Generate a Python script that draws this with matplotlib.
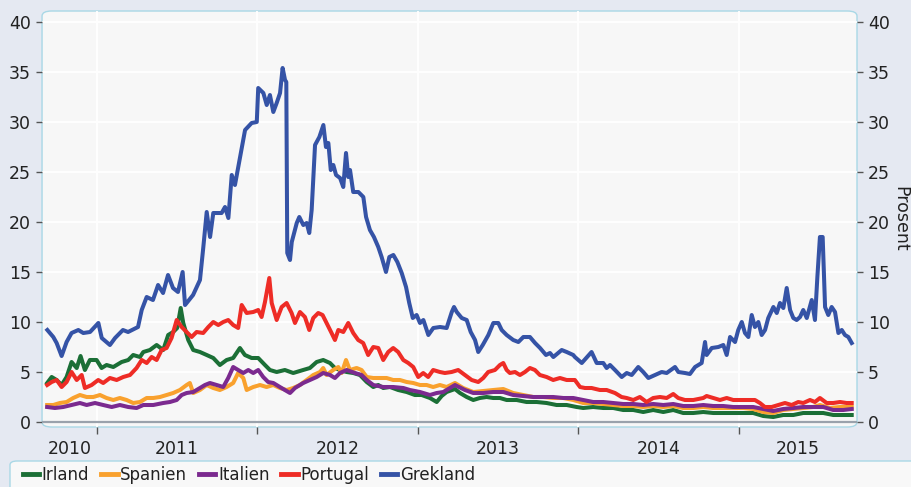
import matplotlib
matplotlib.use("Agg")
import matplotlib.pyplot as plt
from matplotlib.patches import FancyBboxPatch
from matplotlib.lines import Line2D
import numpy as np

# data (x in decimal years, y in percent)
gre_x = [2010.691, 2010.728, 2010.749, 2010.780, 2010.811, 2010.842, 2010.884, 2010.915, 2010.957, 2011.009,
         2011.030, 2011.081, 2011.113, 2011.162, 2011.194, 2011.256, 2011.279, 2011.310, 2011.349, 2011.381,
         2011.412, 2011.443, 2011.474, 2011.505, 2011.534, 2011.549, 2011.599, 2011.642, 2011.663, 2011.684,
         2011.705, 2011.725, 2011.777, 2011.798, 2011.819, 2011.840, 2011.860, 2011.891, 2011.923, 2011.964,
         2011.996, 2012.005, 2012.037, 2012.058, 2012.078, 2012.099, 2012.120, 2012.141, 2012.157, 2012.172,
         2012.180, 2012.186, 2012.203, 2012.214, 2012.245, 2012.261, 2012.286, 2012.307, 2012.323, 2012.338,
         2012.359, 2012.386, 2012.411, 2012.427, 2012.442, 2012.457, 2012.473, 2012.490, 2012.515, 2012.535,
         2012.552, 2012.566, 2012.577, 2012.597, 2012.629, 2012.660, 2012.677, 2012.701, 2012.726, 2012.753,
         2012.774, 2012.801, 2012.822, 2012.847, 2012.872, 2012.899, 2012.926, 2012.946, 2012.968, 2012.992,
         2013.013, 2013.034, 2013.065, 2013.096, 2013.138, 2013.179, 2013.211, 2013.225, 2013.242, 2013.273,
         2013.304, 2013.329, 2013.356, 2013.376, 2013.404, 2013.439, 2013.470, 2013.501, 2013.522, 2013.553,
         2013.594, 2013.626, 2013.657, 2013.698, 2013.730, 2013.761, 2013.798, 2013.823, 2013.844, 2013.896,
         2013.927, 2013.968, 2013.978, 2014.021, 2014.082, 2014.114, 2014.155, 2014.176, 2014.197, 2014.228,
         2014.270, 2014.301, 2014.332, 2014.373, 2014.404, 2014.436, 2014.477, 2014.519, 2014.550, 2014.602,
         2014.623, 2014.664, 2014.695, 2014.727, 2014.768, 2014.789, 2014.799, 2014.831, 2014.872, 2014.903,
         2014.924, 2014.945, 2014.976, 2014.996, 2015.018, 2015.038, 2015.059, 2015.080, 2015.100, 2015.121,
         2015.142, 2015.163, 2015.183, 2015.215, 2015.236, 2015.256, 2015.277, 2015.298, 2015.319, 2015.339,
         2015.360, 2015.381, 2015.401, 2015.423, 2015.454, 2015.474, 2015.489, 2015.505, 2015.522, 2015.537,
         2015.557, 2015.578, 2015.599, 2015.620, 2015.641, 2015.661, 2015.682, 2015.703]
gre_y = [9.2, 8.5, 7.9, 6.6, 8.0, 8.9, 9.2, 8.9, 9.0, 9.9,
         8.4, 7.7, 8.4, 9.2, 9.0, 9.5, 11.2, 12.5, 12.2, 13.7,
         12.9, 14.7, 13.4, 13.0, 15.0, 11.7, 12.7, 14.2, 17.5, 21.0,
         18.5, 20.9, 20.9, 21.5, 20.4, 24.7, 23.7, 26.4, 29.2, 29.9,
         30.0, 33.4, 32.9, 31.7, 32.7, 31.0, 31.9, 32.9, 35.4, 34.2,
         34.0, 16.9, 16.2, 18.0, 19.9, 20.5, 19.7, 19.9, 18.9, 21.2,
         27.7, 28.5, 29.7, 27.5, 27.9, 25.2, 25.7, 24.7, 24.4, 23.5,
         26.9, 24.5, 25.2, 23.0, 23.0, 22.5, 20.5, 19.2, 18.5, 17.5,
         16.5, 15.0, 16.5, 16.7, 16.0, 14.9, 13.5, 11.9, 10.4, 10.7,
         9.9, 10.2, 8.7, 9.4, 9.5, 9.4, 11.0, 11.5, 11.0, 10.4,
         10.2, 9.0, 8.2, 7.0, 7.7, 8.7, 9.9, 9.9, 9.2, 8.7,
         8.2, 8.0, 8.5, 8.5, 7.9, 7.4, 6.7, 6.9, 6.5, 7.2,
         7.0, 6.7, 6.5, 5.9, 7.0, 5.9, 5.9, 5.4, 5.7, 5.2,
         4.5, 4.9, 4.7, 5.5, 5.0, 4.4, 4.7, 5.0, 4.9, 5.5,
         5.0, 4.9, 4.8, 5.5, 5.9, 8.0, 6.7, 7.4, 7.5, 7.7,
         6.7, 8.5, 8.0, 9.2, 10.0, 8.9, 8.5, 10.7, 9.5, 10.0,
         8.7, 9.2, 10.4, 11.5, 10.9, 11.9, 11.4, 13.4, 11.2, 10.4,
         10.2, 10.5, 11.2, 10.4, 12.2, 10.2, 14.5, 18.5, 18.5, 11.5,
         10.7, 11.5, 11.0, 8.9, 9.2, 8.7, 8.5, 7.9]

por_x = [2010.690, 2010.718, 2010.749, 2010.780, 2010.811, 2010.842, 2010.874, 2010.905, 2010.925, 2010.967,
         2011.008, 2011.039, 2011.081, 2011.123, 2011.164, 2011.206, 2011.247, 2011.279, 2011.310, 2011.341,
         2011.372, 2011.403, 2011.434, 2011.465, 2011.497, 2011.528, 2011.559, 2011.590, 2011.621, 2011.662,
         2011.694, 2011.725, 2011.756, 2011.787, 2011.818, 2011.849, 2011.880, 2011.902, 2011.933, 2011.974,
         2012.005, 2012.026, 2012.047, 2012.074, 2012.089, 2012.120, 2012.151, 2012.182, 2012.213, 2012.234,
         2012.265, 2012.296, 2012.323, 2012.348, 2012.379, 2012.406, 2012.431, 2012.462, 2012.483, 2012.504,
         2012.535, 2012.566, 2012.597, 2012.628, 2012.659, 2012.690, 2012.722, 2012.753, 2012.784, 2012.815,
         2012.846, 2012.877, 2012.909, 2012.940, 2012.971, 2013.002, 2013.033, 2013.064, 2013.095, 2013.137,
         2013.168, 2013.210, 2013.251, 2013.293, 2013.335, 2013.376, 2013.407, 2013.438, 2013.480, 2013.511,
         2013.532, 2013.553, 2013.573, 2013.605, 2013.636, 2013.667, 2013.698, 2013.729, 2013.760, 2013.802,
         2013.843, 2013.885, 2013.927, 2013.978, 2014.010, 2014.041, 2014.082, 2014.134, 2014.176, 2014.228,
         2014.269, 2014.301, 2014.342, 2014.383, 2014.425, 2014.466, 2014.508, 2014.550, 2014.591, 2014.622,
         2014.664, 2014.716, 2014.778, 2014.799, 2014.840, 2014.882, 2014.924, 2014.965, 2015.007, 2015.048,
         2015.100, 2015.131, 2015.162, 2015.204, 2015.245, 2015.287, 2015.329, 2015.370, 2015.401, 2015.443,
         2015.474, 2015.505, 2015.547, 2015.588, 2015.630, 2015.671, 2015.703]
por_y = [3.7, 4.0, 4.2, 3.5, 4.0, 5.0, 4.2, 4.7, 3.4, 3.7,
         4.2, 3.9, 4.4, 4.2, 4.5, 4.7, 5.4, 6.2, 5.9, 6.5,
         6.2, 7.2, 7.4, 8.4, 10.2, 9.5, 9.0, 8.5, 9.0, 8.9,
         9.5, 10.0, 9.7, 10.0, 10.2, 9.7, 9.4, 11.7, 10.9, 11.0,
         11.2, 10.5, 12.0, 14.4, 11.9, 10.2, 11.5, 11.9, 10.9, 9.9,
         11.0, 10.5, 9.2, 10.4, 10.9, 10.7, 9.9, 8.9, 8.2, 9.2,
         9.0, 9.9, 8.9, 8.2, 7.9, 6.7, 7.5, 7.4, 6.2, 7.0,
         7.4, 7.0, 6.2, 5.9, 5.5, 4.5, 4.9, 4.5, 5.2, 5.0,
         4.9, 5.0, 5.2, 4.7, 4.2, 4.0, 4.4, 5.0, 5.2, 5.7,
         5.9, 5.2, 4.9, 5.0, 4.7, 5.0, 5.4, 5.2, 4.7, 4.5,
         4.2, 4.4, 4.2, 4.2, 3.5, 3.4, 3.4, 3.2, 3.2, 2.9,
         2.5, 2.4, 2.2, 2.5, 2.0, 2.4, 2.5, 2.4, 2.8, 2.4,
         2.2, 2.2, 2.4, 2.6, 2.4, 2.2, 2.4, 2.2, 2.2, 2.2,
         2.2, 1.9, 1.5, 1.5, 1.7, 1.9, 1.7, 2.0, 1.9, 2.2,
         2.0, 2.4, 1.9, 1.9, 2.0, 1.9, 1.9]

irl_x = [2010.690, 2010.718, 2010.749, 2010.780, 2010.811, 2010.842, 2010.874, 2010.898, 2010.925, 2010.956,
         2010.998, 2011.029, 2011.060, 2011.102, 2011.154, 2011.195, 2011.226, 2011.268, 2011.289, 2011.330,
         2011.372, 2011.413, 2011.444, 2011.475, 2011.500, 2011.522, 2011.538, 2011.569, 2011.600, 2011.642,
         2011.684, 2011.725, 2011.766, 2011.808, 2011.849, 2011.891, 2011.922, 2011.964, 2012.005, 2012.047,
         2012.078, 2012.120, 2012.171, 2012.223, 2012.285, 2012.327, 2012.369, 2012.410, 2012.452, 2012.483,
         2012.514, 2012.556, 2012.597, 2012.639, 2012.681, 2012.722, 2012.753, 2012.784, 2012.826, 2012.877,
         2012.930, 2012.981, 2013.023, 2013.075, 2013.117, 2013.148, 2013.179, 2013.231, 2013.262, 2013.304,
         2013.345, 2013.386, 2013.428, 2013.469, 2013.511, 2013.553, 2013.615, 2013.677, 2013.740, 2013.802,
         2013.864, 2013.927, 2013.989, 2014.030, 2014.092, 2014.155, 2014.217, 2014.279, 2014.342, 2014.404,
         2014.466, 2014.529, 2014.591, 2014.653, 2014.716, 2014.778, 2014.840, 2014.902, 2014.965, 2015.027,
         2015.089, 2015.152, 2015.214, 2015.276, 2015.339, 2015.401, 2015.463, 2015.526, 2015.588, 2015.650,
         2015.703]
irl_y = [3.9, 4.5, 4.2, 3.7, 4.5, 6.0, 5.4, 6.6, 5.2, 6.2,
         6.2, 5.4, 5.7, 5.5, 6.0, 6.2, 6.7, 6.5, 7.0, 7.2,
         7.7, 7.2, 8.7, 9.0, 9.4, 11.4, 9.9, 8.2, 7.2, 7.0,
         6.7, 6.4, 5.7, 6.2, 6.4, 7.4, 6.7, 6.4, 6.4, 5.7,
         5.2, 5.0, 5.2, 4.9, 5.2, 5.4, 6.0, 6.2, 5.9, 5.4,
         5.2, 5.0, 4.9, 4.7, 4.0, 3.5, 3.7, 3.4, 3.5, 3.2,
         3.0, 2.7, 2.7, 2.4, 2.0, 2.6, 3.0, 3.3, 2.9, 2.5,
         2.2, 2.4, 2.5, 2.4, 2.4, 2.2, 2.2, 2.0, 2.0, 1.9,
         1.7, 1.7, 1.5, 1.4, 1.5, 1.4, 1.4, 1.2, 1.2, 1.0,
         1.2, 1.0, 1.2, 0.9, 0.9, 1.0, 0.9, 0.9, 0.9, 0.9,
         0.9, 0.6, 0.5, 0.7, 0.7, 0.9, 0.9, 0.9, 0.7, 0.7,
         0.7]

spa_x = [2010.690, 2010.728, 2010.769, 2010.811, 2010.852, 2010.894, 2010.936, 2010.977, 2011.019, 2011.060,
         2011.102, 2011.143, 2011.185, 2011.226, 2011.268, 2011.310, 2011.351, 2011.393, 2011.434, 2011.475,
         2011.517, 2011.559, 2011.579, 2011.600, 2011.642, 2011.684, 2011.725, 2011.766, 2011.808, 2011.849,
         2011.880, 2011.912, 2011.933, 2011.974, 2012.016, 2012.057, 2012.099, 2012.140, 2012.182, 2012.223,
         2012.265, 2012.307, 2012.348, 2012.390, 2012.410, 2012.431, 2012.472, 2012.504, 2012.525, 2012.552,
         2012.576, 2012.618, 2012.649, 2012.681, 2012.722, 2012.763, 2012.805, 2012.846, 2012.888, 2012.930,
         2012.971, 2013.013, 2013.054, 2013.095, 2013.137, 2013.179, 2013.231, 2013.282, 2013.345, 2013.407,
         2013.469, 2013.532, 2013.594, 2013.656, 2013.719, 2013.781, 2013.843, 2013.906, 2013.968, 2014.030,
         2014.092, 2014.155, 2014.217, 2014.279, 2014.342, 2014.404, 2014.466, 2014.529, 2014.591, 2014.653,
         2014.716, 2014.778, 2014.840, 2014.902, 2014.965, 2015.027, 2015.089, 2015.152, 2015.214, 2015.276,
         2015.339, 2015.401, 2015.463, 2015.505, 2015.567, 2015.630, 2015.703]
spa_y = [1.7, 1.7, 1.9, 2.0, 2.4, 2.7, 2.5, 2.5, 2.7, 2.4,
         2.2, 2.4, 2.2, 1.9, 2.0, 2.4, 2.4, 2.5, 2.7, 2.9,
         3.2, 3.7, 3.9, 2.9, 3.2, 3.7, 3.4, 3.2, 3.5, 3.9,
         4.9, 4.4, 3.2, 3.5, 3.7, 3.5, 3.7, 3.4, 3.2, 3.4,
         3.7, 4.2, 4.7, 5.0, 5.4, 4.7, 5.2, 5.5, 4.9, 6.2,
         5.2, 5.4, 5.2, 4.5, 4.4, 4.4, 4.4, 4.2, 4.2, 4.0,
         3.9, 3.7, 3.7, 3.5, 3.7, 3.5, 3.9, 3.4, 3.0, 3.1,
         3.2, 3.3, 2.9, 2.7, 2.5, 2.5, 2.4, 2.4, 2.2, 1.9,
         1.9, 1.8, 1.7, 1.6, 1.6, 1.5, 1.6, 1.5, 1.6, 1.4,
         1.4, 1.5, 1.4, 1.4, 1.4, 1.4, 1.3, 1.0, 0.9, 1.2,
         1.3, 1.4, 1.5, 1.7, 1.4, 1.5, 1.5]

ita_x = [2010.690, 2010.738, 2010.790, 2010.842, 2010.894, 2010.936, 2010.988, 2011.039, 2011.092, 2011.143,
         2011.195, 2011.247, 2011.289, 2011.351, 2011.413, 2011.455, 2011.497, 2011.528, 2011.559, 2011.600,
         2011.642, 2011.673, 2011.704, 2011.746, 2011.787, 2011.818, 2011.849, 2011.880, 2011.912, 2011.943,
         2011.974, 2012.005, 2012.036, 2012.067, 2012.099, 2012.140, 2012.171, 2012.203, 2012.234, 2012.285,
         2012.327, 2012.369, 2012.410, 2012.452, 2012.483, 2012.514, 2012.556, 2012.608, 2012.649, 2012.681,
         2012.722, 2012.784, 2012.846, 2012.909, 2012.950, 2013.013, 2013.075, 2013.117, 2013.158, 2013.231,
         2013.293, 2013.345, 2013.407, 2013.469, 2013.532, 2013.594, 2013.656, 2013.719, 2013.781, 2013.843,
         2013.906, 2013.968, 2014.030, 2014.092, 2014.155, 2014.217, 2014.279, 2014.342, 2014.404, 2014.466,
         2014.529, 2014.591, 2014.653, 2014.716, 2014.778, 2014.840, 2014.902, 2014.965, 2015.027, 2015.089,
         2015.152, 2015.214, 2015.276, 2015.339, 2015.401, 2015.463, 2015.526, 2015.588, 2015.650, 2015.703]
ita_y = [1.5, 1.4, 1.5, 1.7, 1.9, 1.7, 1.9, 1.7, 1.5, 1.7,
         1.5, 1.4, 1.7, 1.7, 1.9, 2.0, 2.2, 2.7, 2.9, 3.0,
         3.4, 3.7, 3.9, 3.7, 3.5, 4.4, 5.5, 5.2, 4.9, 5.2,
         4.9, 5.2, 4.5, 4.0, 3.9, 3.5, 3.2, 2.9, 3.4, 3.9,
         4.2, 4.5, 4.9, 4.7, 4.4, 4.9, 5.2, 4.9, 4.7, 4.2,
         3.7, 3.5, 3.5, 3.4, 3.2, 3.0, 2.7, 2.9, 3.0, 3.7,
         3.2, 2.9, 2.9, 3.0, 3.0, 2.7, 2.6, 2.5, 2.5, 2.5,
         2.4, 2.4, 2.2, 2.0, 2.0, 1.9, 1.8, 1.8, 1.7, 1.8,
         1.7, 1.8, 1.6, 1.6, 1.7, 1.6, 1.6, 1.5, 1.5, 1.5,
         1.3, 1.1, 1.3, 1.4, 1.5, 1.5, 1.5, 1.2, 1.2, 1.3]

names = ["Irland", "Spanien", "Italien", "Portugal", "Grekland"]
colors = ["#1b6f36", "#f9a12e", "#7b2a8f", "#ee2c26", "#3553a6"]
series = [(irl_x, irl_y), (spa_x, spa_y), (ita_x, ita_y), (por_x, por_y), (gre_x, gre_y)]

years = [2010, 2011, 2012, 2013, 2014, 2015]
x_min, x_max = 2010.658, 2015.736

bg = "#e5e9f2"
txt = "#222222"

fig = plt.figure(figsize=(9.12, 4.87), dpi=100, facecolor=bg)
ax = fig.add_axes([0.0461, 0.1232, 0.8936, 0.8542])
ax.patch.set_visible(False)
for s in ax.spines.values():
    s.set_visible(False)

# rounded plot frame
frame = FancyBboxPatch((0, 0), 1, 1, boxstyle="round,pad=0,rounding_size=0.012",
                       transform=ax.transAxes, facecolor="#f7f7f7", edgecolor="#a9d8e6",
                       lw=1.0, zorder=0, clip_on=False)
ax.add_patch(frame)

for (xs, ys), c, n in zip(series, colors, names):
    ax.plot(xs, ys, color=c, lw=2.9, label=n, zorder=3, solid_joinstyle="round")

ax.axhline(0, color="#9aa2ac", lw=1.6, zorder=2)

ax.set_xlim(x_min, x_max)
ax.set_ylim(-0.5, 41.1)

# x: tick marks at year boundaries, labels centred in the visible part of each year
bounds = years[1:]
ax.set_xticks(bounds)
ax.set_xticklabels([])
lab_pos = []
for y in years:
    lo, hi = max(y, x_min), min(y + 1, x_max)
    lab_pos.append((lo + hi) / 2)
ax.set_xticks(lab_pos, minor=True)
ax.set_xticklabels([str(y) for y in years], minor=True)
ax.tick_params(axis="x", which="major", length=5, width=1, color="#555555", direction="out", pad=2)
ax.tick_params(axis="x", which="minor", length=0, pad=9, labelsize=12.5, labelcolor=txt)

yt = np.arange(0, 41, 5)
ax.set_yticks(yt)
ax.tick_params(axis="y", length=4, width=1, color="#555555", labelsize=12.5, labelcolor=txt, pad=4)
ax.grid(True, which="major", color="white", lw=1.3, zorder=1)

ax2 = ax.twinx()
ax2.set_ylim(ax.get_ylim())
ax2.set_yticks(yt)
ax2.tick_params(axis="y", length=4, width=1, color="#555555", labelsize=12.5, labelcolor=txt, pad=4)
for s in ax2.spines.values():
    s.set_visible(False)
ax2.set_ylabel("Prosent", rotation=270, fontsize=12.5, color=txt, labelpad=14)

# legend strip at the bottom
leg_bg = FancyBboxPatch((10 / 912, -0.05), 1.0, 26 / 487 + 0.05,
                        boxstyle="round,pad=0,rounding_size=0.008", transform=fig.transFigure,
                        facecolor="#f8f8f8", edgecolor="#a9d8e6", lw=1.0, clip_on=False)
fig.patches.append(leg_bg)
handles = [Line2D([], [], color=c, lw=3.5) for c in colors]
fig.legend(handles, names, loc="center left", bbox_to_anchor=(16 / 912, 12 / 487), ncol=5,
           frameon=False, fontsize=12, handlelength=1.0, handletextpad=0.15,
           columnspacing=0.7, borderaxespad=0, labelcolor=txt)

fig.savefig("out.png", dpi=100, facecolor=bg)
